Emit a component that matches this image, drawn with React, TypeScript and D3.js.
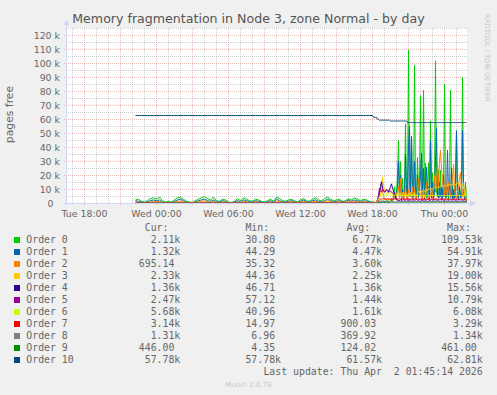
import * as d3 from "d3";

// free pages per order, in thousands
// first 80 points: every 15 min from Tue 22:15, then 94 points every 5 min from Wed 18:05
const order0 = [
  2.5, 3.0, 1.5, 1.0, 2.0, 3.5, 4.0, 3.0, 4.5, 2.0,
  1.0, 1.5, 1.0, 2.5, 4.0, 4.5, 3.0, 1.5, 1.0, 0.8,
  2.0, 3.0, 4.0, 5.0, 3.5, 2.5, 4.5, 2.0, 1.5, 3.0,
  2.5, 1.0, 0.8, 1.5, 3.5, 2.0, 4.0, 3.0, 2.0, 1.5,
  3.0, 2.5, 1.5, 1.0, 2.0, 3.0, 1.5, 4.5, 3.5, 2.0,
  1.5, 2.5, 3.0, 2.0, 1.0, 2.5, 3.5, 2.0, 1.5, 3.0,
  4.0, 2.5, 2.0, 3.5, 4.5, 3.0, 2.0, 2.5, 3.0, 1.5,
  2.0, 3.5, 2.5, 4.0, 3.0, 2.0, 3.0, 2.5, 1.5, 1.0,
  1.5, 0.8, 0.5, 1.0, 2.0, 1.5, 0.8,
  0.6, 0.9, 1.5, 2.0, 1.2, 0.8, 1.5, 2.5, 1.8, 1.0,
  2.0, 3.5, 2.0, 5.0, 12.0, 4.0, 8.0, 20.0, 45.0, 6.0,
  30.0, 5.0, 18.0, 4.0, 10.0, 57.0, 8.0, 4.0, 109.53, 12.0,
  5.0, 46.0, 8.0, 3.0, 98.6, 10.0, 4.0, 33.0, 6.0, 15.0,
  77.0, 6.0, 3.0, 81.0, 5.0, 29.0, 4.0, 10.0, 29.0, 5.0,
  59.0, 6.0, 22.0, 4.0, 12.0, 102.0, 8.0, 5.0, 24.0, 4.0,
  23.6, 3.0, 10.0, 5.0, 85.0, 6.0, 4.0, 12.0, 3.0, 8.0,
  81.0, 5.0, 15.0, 3.0, 10.0, 4.0, 52.0, 6.0, 3.0, 12.0,
  5.0, 4.0, 90.0, 8.0, 4.0, 15.0, 2.11,
];
const order1 = [
  2.0, 1.5, 1.0, 0.6, 1.2, 2.0, 2.5, 1.8, 2.5, 1.0,
  0.6, 0.8, 0.6, 1.5, 2.5, 3.0, 2.0, 0.8, 0.6, 0.5,
  1.2, 2.0, 2.5, 3.0, 2.0, 1.5, 2.5, 1.2, 1.0, 2.0,
  1.5, 0.6, 0.5, 1.0, 2.0, 1.2, 2.5, 2.0, 1.2, 1.0,
  2.0, 1.5, 1.0, 0.6, 1.2, 2.0, 1.0, 3.0, 2.0, 1.2,
  1.0, 1.5, 2.0, 1.2, 0.6, 1.5, 2.5, 1.2, 1.0, 2.0,
  2.5, 1.5, 1.2, 2.0, 3.0, 2.0, 1.2, 1.5, 2.0, 1.0,
  1.2, 2.5, 1.5, 2.5, 2.0, 1.2, 2.0, 1.5, 1.0, 0.6,
  0.8, 0.5, 0.6, 1.0, 1.5, 1.0, 0.8,
  1.2, 2.0, 1.5, 1.0, 0.8, 1.2, 1.5, 1.0, 0.8, 1.2,
  1.5, 2.5, 1.5, 4.0, 8.0, 3.0, 6.0, 12.0, 30.0, 4.0,
  20.0, 3.0, 10.0, 3.0, 6.0, 35.0, 5.0, 3.0, 40.0, 54.91,
  6.0, 48.0, 5.0, 3.0, 30.0, 6.0, 3.0, 20.0, 4.0, 10.0,
  20.0, 36.0, 4.0, 25.0, 3.0, 15.0, 26.0, 4.0, 12.0, 3.0,
  45.0, 4.0, 15.0, 3.0, 8.0, 30.0, 54.0, 5.0, 4.0, 15.0,
  5.0, 12.0, 3.0, 20.0, 8.0, 4.0, 6.0, 38.0, 5.0, 12.0,
  4.0, 25.0, 3.0, 10.0, 4.0, 20.0, 52.0, 6.0, 3.0, 12.0,
  4.0, 8.0, 52.0, 10.0, 3.0, 6.0, 1.32,
];
const order2 = [
  1.0, 0.8, 0.5, 0.4, 0.8, 1.0, 1.6, 1.2, 1.4, 0.6,
  0.4, 0.6, 0.5, 0.9, 1.3, 1.9, 1.1, 0.5, 0.4, 0.3,
  0.8, 1.1, 1.6, 1.8, 1.3, 0.9, 1.5, 0.8, 0.6, 1.1,
  1.0, 0.4, 0.3, 0.7, 1.1, 0.8, 1.4, 1.3, 0.7, 0.5,
  1.3, 0.9, 0.6, 0.5, 0.7, 1.1, 0.6, 1.7, 1.3, 0.8,
  0.6, 1.0, 1.4, 0.8, 0.4, 1.0, 1.6, 0.9, 0.7, 1.3,
  1.6, 1.0, 0.8, 1.3, 1.9, 1.4, 0.8, 1.0, 1.3, 0.6,
  0.8, 1.6, 1.0, 1.4, 1.3, 0.7, 1.3, 1.0, 0.6, 0.5,
  0.3, 0.4, 0.5, 0.8, 1.5, 3.0, 8.0,
  12.0, 15.0, 9.0, 5.0, 3.0, 2.5, 3.0, 2.0, 2.5, 3.0,
  2.5, 3.0, 2.0, 4.0, 6.0, 3.0, 5.0, 8.0, 12.0, 4.0,
  18.0, 4.0, 8.0, 3.0, 6.0, 12.0, 4.0, 3.0, 10.0, 5.0,
  8.0, 4.0, 12.0, 3.0, 10.0, 5.0, 3.0, 8.0, 18.0, 6.0,
  5.0, 8.0, 3.0, 10.0, 4.0, 6.0, 15.0, 4.0, 3.0, 6.0,
  5.0, 10.0, 4.0, 12.0, 20.0, 8.0, 15.0, 28.0, 12.0, 30.0,
  37.97, 25.0, 18.0, 10.0, 6.0, 20.0, 8.0, 5.0, 15.0, 6.0,
  5.0, 12.0, 18.0, 28.0, 10.0, 6.0, 4.0, 8.0, 12.0, 18.0,
  22.0, 10.0, 5.0, 15.0, 6.0, 4.0, 0.695,
];
const order3 = [
  0.5, 0.4, 0.3, 0.3, 0.4, 0.6, 0.8, 0.6, 0.9, 0.4,
  0.3, 0.3, 0.3, 0.5, 0.8, 1.0, 0.7, 0.4, 0.3, 0.3,
  0.4, 0.6, 0.8, 1.1, 0.7, 0.5, 0.9, 0.4, 0.4, 0.6,
  0.5, 0.3, 0.3, 0.4, 0.7, 0.4, 0.8, 0.6, 0.4, 0.4,
  0.6, 0.5, 0.4, 0.3, 0.4, 0.6, 0.4, 1.0, 0.7, 0.4,
  0.4, 0.5, 0.7, 0.4, 0.3, 0.5, 0.9, 0.5, 0.4, 0.7,
  0.9, 0.6, 0.5, 0.8, 1.2, 0.8, 0.5, 0.6, 0.8, 0.4,
  0.5, 0.9, 0.6, 0.9, 0.7, 0.5, 0.8, 0.6, 0.4, 0.6,
  0.2, 0.3, 0.4, 0.6, 1.0, 2.0, 4.0,
  6.0, 10.0, 19.0, 13.0, 9.0, 8.0, 7.0, 8.0, 7.5, 8.0,
  7.0, 8.0, 7.5, 6.0, 7.0, 8.0, 6.0, 7.0, 8.0, 6.0,
  7.0, 5.0, 6.0, 8.0, 5.0, 6.0, 7.0, 5.0, 6.0, 8.0,
  6.0, 5.0, 7.0, 6.0, 8.0, 5.0, 6.0, 7.0, 9.0, 8.0,
  7.0, 9.0, 8.0, 10.0, 9.0, 8.0, 10.0, 9.0, 11.0, 10.0,
  10.0, 11.0, 10.0, 11.0, 12.0, 11.0, 11.0, 12.0, 11.0, 12.0,
  12.0, 12.0, 13.0, 12.0, 13.0, 13.0, 12.0, 13.0, 14.0, 13.0,
  13.0, 14.0, 13.0, 14.0, 14.0, 13.0, 14.0, 15.0, 14.0, 14.0,
  13.0, 14.0, 13.0, 12.0, 8.0, 5.0, 2.33,
];
const order4 = [
  0.45, 0.42, 0.40, 0.38, 0.41, 0.45, 0.48, 0.44, 0.50, 0.42,
  0.38, 0.39, 0.38, 0.43, 0.48, 0.52, 0.46, 0.40, 0.38, 0.37,
  0.41, 0.45, 0.49, 0.55, 0.47, 0.43, 0.50, 0.41, 0.40, 0.44,
  0.43, 0.38, 0.37, 0.40, 0.46, 0.42, 0.48, 0.45, 0.41, 0.40,
  0.44, 0.43, 0.40, 0.38, 0.41, 0.45, 0.40, 0.52, 0.47, 0.42,
  0.40, 0.43, 0.46, 0.42, 0.38, 0.43, 0.48, 0.42, 0.40, 0.45,
  0.49, 0.44, 0.42, 0.47, 0.53, 0.46, 0.42, 0.44, 0.46, 0.40,
  0.42, 0.48, 0.44, 0.50, 0.46, 0.42, 0.46, 0.44, 0.40, 0.42,
  0.3, 0.4, 0.6, 1.0, 2.0, 4.0, 8.0,
  12.0, 15.56, 11.0, 9.0, 8.0, 9.0, 10.0, 9.0, 8.0, 10.0,
  12.0, 14.0, 11.0, 9.0, 7.0, 5.0, 3.0, 2.5, 2.0, 1.8,
  1.5, 2.0, 1.6, 1.4, 1.8, 2.2, 1.5, 1.3, 1.7, 2.0,
  1.6, 1.4, 1.8, 1.5, 2.0, 1.7, 1.4, 1.6, 1.9, 1.5,
  1.3, 1.7, 2.1, 1.6, 1.4, 1.8, 1.5, 1.3, 1.6, 2.0,
  1.7, 1.4, 1.5, 1.9, 1.6, 1.3, 1.8, 2.2, 1.6, 1.4,
  1.5, 1.8, 1.4, 1.6, 2.0, 1.7, 1.3, 1.5, 1.8, 1.6,
  1.4, 1.7, 1.5, 1.3, 1.6, 1.9, 1.5, 1.4, 1.7, 1.5,
  1.3, 1.6, 1.8, 1.5, 1.4, 1.4, 1.36,
];
const order5 = [
  0.32, 0.30, 0.29, 0.28, 0.29, 0.31, 0.33, 0.31, 0.34, 0.30,
  0.28, 0.28, 0.28, 0.30, 0.33, 0.35, 0.32, 0.29, 0.28, 0.27,
  0.29, 0.31, 0.33, 0.36, 0.32, 0.30, 0.34, 0.29, 0.29, 0.31,
  0.30, 0.28, 0.27, 0.29, 0.32, 0.30, 0.33, 0.31, 0.29, 0.29,
  0.31, 0.30, 0.29, 0.28, 0.29, 0.31, 0.29, 0.35, 0.32, 0.30,
  0.29, 0.30, 0.32, 0.30, 0.28, 0.30, 0.33, 0.30, 0.29, 0.31,
  0.33, 0.31, 0.30, 0.32, 0.35, 0.32, 0.30, 0.31, 0.32, 0.29,
  0.30, 0.33, 0.31, 0.34, 0.32, 0.30, 0.32, 0.31, 0.29, 0.30,
  0.3, 0.5, 0.8, 1.5, 3.0, 6.0, 10.79,
  9.0, 8.0, 10.0, 9.5, 8.5, 9.0, 10.0, 9.5, 9.0, 8.5,
  9.0, 8.0, 7.5, 7.0, 6.0, 4.0, 3.0, 2.5, 2.2, 2.0,
  2.6, 2.9, 2.4, 2.7, 3.1, 2.5, 2.8, 2.3, 2.6, 3.0,
  2.7, 2.4, 2.9, 2.6, 2.5, 3.2, 2.8, 2.4, 2.6, 2.9,
  2.5, 2.7, 3.0, 2.6, 2.4, 2.8, 2.5, 2.7, 3.1, 2.6,
  2.4, 2.9, 2.7, 2.5, 2.8, 2.6, 3.0, 2.4, 2.7, 2.5,
  2.9, 2.6, 2.8, 2.4, 2.7, 3.0, 2.5, 2.6, 2.8, 2.4,
  2.7, 2.9, 2.5, 2.6, 2.8, 2.5, 2.7, 2.4, 2.6, 2.9,
  2.5, 2.7, 2.6, 2.4, 2.6, 2.5, 2.47,
];
const order6 = [
  0.20, 0.19, 0.18, 0.18, 0.18, 0.19, 0.21, 0.20, 0.22, 0.19,
  0.18, 0.18, 0.17, 0.19, 0.21, 0.22, 0.20, 0.18, 0.18, 0.17,
  0.18, 0.20, 0.21, 0.23, 0.20, 0.19, 0.21, 0.18, 0.18, 0.20,
  0.19, 0.17, 0.17, 0.18, 0.20, 0.19, 0.21, 0.20, 0.18, 0.18,
  0.20, 0.19, 0.18, 0.17, 0.18, 0.20, 0.18, 0.22, 0.20, 0.19,
  0.18, 0.19, 0.20, 0.19, 0.17, 0.19, 0.21, 0.19, 0.18, 0.20,
  0.21, 0.20, 0.19, 0.20, 0.22, 0.20, 0.19, 0.19, 0.20, 0.18,
  0.19, 0.21, 0.20, 0.21, 0.20, 0.19, 0.20, 0.19, 0.18, 0.19,
  0.2, 0.3, 0.5, 1.0, 2.0, 3.5, 5.0,
  5.6, 5.8, 6.0, 6.08, 6.0, 5.9, 5.9, 5.8, 5.8, 5.8,
  5.8, 5.9, 5.8, 5.8, 5.9, 5.8, 5.8, 5.7, 5.8, 5.8,
  5.8, 5.8, 5.7, 5.8, 5.8, 5.8, 5.7, 5.8, 5.8, 5.7,
  5.8, 5.7, 5.7, 5.8, 5.7, 5.7, 5.8, 5.7, 5.7, 5.7,
  5.7, 5.7, 5.8, 5.7, 5.7, 5.7, 5.7, 5.7, 5.7, 5.7,
  5.7, 5.7, 5.7, 5.7, 5.7, 5.7, 5.7, 5.7, 5.7, 5.7,
  5.7, 5.7, 5.7, 5.7, 5.7, 5.7, 5.7, 5.7, 5.7, 5.7,
  5.7, 5.7, 5.7, 5.7, 5.7, 5.7, 5.7, 5.7, 5.7, 5.7,
  5.7, 5.7, 5.7, 5.7, 5.7, 5.7, 5.68,
];
const order7 = [
  0.09, 0.08, 0.08, 0.07, 0.08, 0.09, 0.10, 0.09, 0.10, 0.08,
  0.07, 0.07, 0.07, 0.08, 0.10, 0.11, 0.09, 0.08, 0.07, 0.07,
  0.08, 0.09, 0.10, 0.12, 0.09, 0.08, 0.10, 0.08, 0.08, 0.09,
  0.08, 0.07, 0.07, 0.08, 0.09, 0.08, 0.10, 0.09, 0.08, 0.08,
  0.09, 0.08, 0.08, 0.07, 0.08, 0.09, 0.08, 0.11, 0.09, 0.08,
  0.08, 0.08, 0.09, 0.08, 0.07, 0.08, 0.10, 0.08, 0.08, 0.09,
  0.10, 0.09, 0.08, 0.09, 0.11, 0.09, 0.08, 0.09, 0.09, 0.08,
  0.08, 0.10, 0.09, 0.10, 0.09, 0.08, 0.09, 0.08, 0.08, 0.08,
  0.1, 0.1, 0.2, 0.4, 0.8, 1.5, 2.5,
  3.0, 3.2, 3.29, 3.25, 3.2, 3.2, 3.18, 3.2, 3.15, 3.2,
  3.2, 3.18, 3.2, 3.2, 3.18, 3.2, 3.17, 3.2, 3.18, 3.2,
  3.18, 3.17, 3.18, 3.2, 3.17, 3.18, 3.17, 3.18, 3.17, 3.16,
  3.17, 3.16, 3.17, 3.16, 3.17, 3.16, 3.16, 3.17, 3.16, 3.16,
  3.16, 3.15, 3.16, 3.16, 3.15, 3.16, 3.15, 3.15, 3.16, 3.15,
  3.15, 3.15, 3.15, 3.15, 3.15, 3.15, 3.15, 3.15, 3.15, 3.15,
  3.15, 3.15, 3.15, 3.14, 3.15, 3.14, 3.15, 3.14, 3.14, 3.14,
  3.14, 3.14, 3.14, 3.14, 3.14, 3.14, 3.14, 3.14, 3.14, 3.14,
  3.14, 3.14, 3.14, 3.14, 3.14, 3.14, 3.14,
];
const order8 = [
  0.03, 0.03, 0.03, 0.02, 0.03, 0.03, 0.04, 0.03, 0.04, 0.03,
  0.02, 0.02, 0.02, 0.03, 0.04, 0.04, 0.03, 0.03, 0.02, 0.02,
  0.03, 0.03, 0.04, 0.04, 0.03, 0.03, 0.04, 0.03, 0.03, 0.03,
  0.03, 0.02, 0.02, 0.03, 0.03, 0.03, 0.04, 0.03, 0.03, 0.03,
  0.03, 0.03, 0.03, 0.02, 0.03, 0.03, 0.03, 0.04, 0.03, 0.03,
  0.03, 0.03, 0.03, 0.03, 0.02, 0.03, 0.04, 0.03, 0.03, 0.03,
  0.04, 0.03, 0.03, 0.03, 0.04, 0.03, 0.03, 0.03, 0.03, 0.03,
  0.03, 0.04, 0.03, 0.04, 0.03, 0.03, 0.03, 0.03, 0.03, 0.03,
  0.03, 0.04, 0.06, 0.1, 0.2, 0.5, 0.9,
  1.2, 1.3, 1.34, 1.33, 1.32, 1.32, 1.32, 1.31, 1.32, 1.31,
  1.32, 1.31, 1.32, 1.31, 1.31, 1.32, 1.31, 1.31, 1.32, 1.31,
  1.31, 1.31, 1.32, 1.31, 1.31, 1.31, 1.31, 1.32, 1.31, 1.31,
  1.31, 1.31, 1.31, 1.31, 1.32, 1.31, 1.31, 1.31, 1.31, 1.31,
  1.31, 1.31, 1.31, 1.31, 1.31, 1.31, 1.31, 1.31, 1.31, 1.31,
  1.31, 1.31, 1.31, 1.31, 1.31, 1.31, 1.31, 1.31, 1.31, 1.31,
  1.31, 1.31, 1.31, 1.31, 1.31, 1.31, 1.31, 1.31, 1.31, 1.31,
  1.31, 1.31, 1.31, 1.31, 1.31, 1.31, 1.31, 1.31, 1.31, 1.31,
  1.31, 1.31, 1.31, 1.31, 1.31, 1.31, 1.31,
];
const order9 = [
  0.008, 0.007, 0.007, 0.006, 0.007, 0.008, 0.009, 0.008, 0.009, 0.007,
  0.006, 0.006, 0.006, 0.007, 0.009, 0.010, 0.008, 0.007, 0.006, 0.006,
  0.007, 0.008, 0.009, 0.011, 0.008, 0.007, 0.009, 0.007, 0.007, 0.008,
  0.007, 0.006, 0.006, 0.007, 0.008, 0.007, 0.009, 0.008, 0.007, 0.007,
  0.008, 0.007, 0.007, 0.006, 0.007, 0.008, 0.007, 0.010, 0.008, 0.007,
  0.007, 0.007, 0.008, 0.007, 0.006, 0.007, 0.009, 0.007, 0.007, 0.008,
  0.009, 0.008, 0.007, 0.008, 0.010, 0.008, 0.007, 0.008, 0.008, 0.007,
  0.007, 0.009, 0.008, 0.009, 0.008, 0.007, 0.008, 0.007, 0.007, 0.007,
  0.01, 0.01, 0.02, 0.05, 0.1, 0.2, 0.35,
  0.43, 0.46, 0.461, 0.46, 0.46, 0.455, 0.455, 0.45, 0.45, 0.45,
  0.45, 0.45, 0.45, 0.45, 0.45, 0.45, 0.45, 0.45, 0.45, 0.45,
  0.45, 0.45, 0.45, 0.45, 0.45, 0.45, 0.45, 0.45, 0.45, 0.45,
  0.45, 0.45, 0.45, 0.45, 0.45, 0.45, 0.45, 0.45, 0.45, 0.45,
  0.45, 0.45, 0.45, 0.45, 0.45, 0.45, 0.45, 0.45, 0.45, 0.45,
  0.45, 0.45, 0.45, 0.45, 0.45, 0.45, 0.45, 0.45, 0.45, 0.45,
  0.45, 0.45, 0.45, 0.45, 0.45, 0.45, 0.45, 0.45, 0.45, 0.45,
  0.45, 0.45, 0.45, 0.45, 0.45, 0.45, 0.45, 0.45, 0.45, 0.45,
  0.45, 0.45, 0.45, 0.45, 0.45, 0.45, 0.446,
];
const order10 = [
  62.81, 62.81, 62.81, 62.81, 62.81, 62.81, 62.81, 62.81, 62.81, 62.81,
  62.81, 62.81, 62.81, 62.81, 62.81, 62.81, 62.81, 62.81, 62.81, 62.81,
  62.81, 62.81, 62.81, 62.81, 62.81, 62.81, 62.81, 62.81, 62.81, 62.81,
  62.81, 62.81, 62.81, 62.81, 62.81, 62.81, 62.81, 62.81, 62.81, 62.81,
  62.81, 62.81, 62.81, 62.81, 62.81, 62.81, 62.81, 62.81, 62.81, 62.81,
  62.81, 62.81, 62.81, 62.81, 62.81, 62.81, 62.81, 62.81, 62.81, 62.81,
  62.81, 62.81, 62.81, 62.81, 62.81, 62.81, 62.81, 62.81, 62.81, 62.81,
  62.81, 62.81, 62.81, 62.81, 62.81, 62.81, 62.81, 62.81, 62.81, 62.81,
  61.5, 61.5, 61.5, 61.5, 60.2, 60.2, 59.5,
  59.5, 59.5, 59.5, 59.5, 59.5, 59.5, 59.5, 59.5, 59.5, 59.5,
  58.9, 58.9, 58.9, 58.9, 58.9, 58.9, 58.9, 58.9, 58.9, 58.9,
  58.9, 58.9, 58.9, 58.9, 58.9, 58.9, 58.9, 57.78, 57.78, 57.78,
  57.78, 57.78, 57.78, 57.78, 57.78, 57.78, 57.78, 57.78, 57.78, 57.78,
  57.78, 57.78, 57.78, 57.78, 57.78, 57.78, 57.78, 57.78, 57.78, 57.78,
  57.78, 57.78, 57.78, 57.78, 57.78, 57.78, 57.78, 57.78, 57.78, 57.78,
  57.78, 57.78, 57.78, 57.78, 57.78, 57.78, 57.78, 57.78, 57.78, 57.78,
  57.78, 57.78, 57.78, 57.78, 57.78, 57.78, 57.78, 57.78, 57.78, 57.78,
  57.78, 57.78, 57.78, 57.78, 57.78, 57.78, 57.78,
];

const seriesNames = ["Order 0", "Order 1", "Order 2", "Order 3", "Order 4", "Order 5",
  "Order 6", "Order 7", "Order 8", "Order 9", "Order 10"];
const seriesColors = ["#00cc00", "#0066b3", "#ff8000", "#ffcc00", "#330099", "#990099",
  "#ccff00", "#ff0000", "#808080", "#008f00", "#00487d"];
const seriesValues = [order0, order1, order2, order3, order4, order5, order6, order7, order8, order9, order10];

const curValues = ["2.11k", "1.32k", "695.14 ", "2.33k", "1.36k", "2.47k", "5.68k", "3.14k", "1.31k", "446.00 ", "57.78k"];
const minValues = ["30.80 ", "44.29 ", "35.32 ", "44.36 ", "46.71 ", "57.12 ", "40.96 ", "14.97 ", "6.96 ", "4.35 ", "57.78k"];
const avgValues = ["6.77k", "4.47k", "3.60k", "2.25k", "1.36k", "1.44k", "1.61k", "900.03 ", "369.92 ", "124.02 ", "61.57k"];
const maxValues = ["109.53k", "54.91k", "37.97k", "19.00k", "15.56k", "10.79k", "6.08k", "3.29k", "1.34k", "461.00 ", "62.81k"];

const yTicks = [0, 10, 20, 30, 40, 50, 60, 70, 80, 90, 100, 110, 120];
const xTickLabels = [
  new Date(2026, 2, 31, 18, 0),
  new Date(2026, 3, 1, 0, 0),
  new Date(2026, 3, 1, 6, 0),
  new Date(2026, 3, 1, 12, 0),
  new Date(2026, 3, 1, 18, 0),
  new Date(2026, 3, 2, 0, 0),
];

const leftStart = new Date(2026, 2, 31, 22, 15);
const rightStart = new Date(2026, 3, 1, 18, 5);
const times = [
  ...d3.range(80).map((i) => d3.timeMinute.offset(leftStart, i * 15)),
  ...d3.range(94).map((i) => d3.timeMinute.offset(rightStart, i * 5)),
];

const W = 497;
const H = 395;
const left = 67;
const right = 467;
const top = 28;
const bottom = 203;

const sans = "'DejaVu Sans', sans-serif";
const mono = "'DejaVu Sans Mono', monospace";
const fontColor = "#666666";
const axisColor = "#cfd6f8";
const gridColor = "rgba(143,143,143,0.42)";
const mgridColor = "rgba(222,79,79,0.4)";

export default function App() {
  const x = d3
    .scaleTime()
    .domain([new Date(2026, 2, 31, 16, 35), new Date(2026, 3, 2, 1, 55)])
    .range([left, right]);
  const y = d3.scaleLinear().domain([0, 125]).range([bottom, top]);

  const line = d3
    .line<number>()
    .x((_, i) => x(times[i]))
    .y((d) => y(d));

  const hours = d3.timeHour.range(x.domain()[0], x.domain()[1]);
  const minorV = hours.filter((h) => h.getHours() % 3 !== 0);
  const majorV = hours.filter((h) => h.getHours() % 3 === 0);
  const minorH = d3.range(5, 130, 10);

  const cw = 5.93;
  const colEnds = [180.3, 281, 382, 482.7];
  const cols = [curValues, minValues, avgValues, maxValues];
  const headers = ["Cur:", "Min:", "Avg:", "Max:"];

  return (
    <svg width={W} height={H} style={{ position: "absolute", left: 0, top: 0 }}>
      <rect width={W} height={H} fill="#f0f0f0" />
      <rect x={left} y={top} width={right - left} height={bottom - top} fill="#ffffff" />

      {/* grid */}
      <g strokeWidth={1} strokeDasharray="1,1" fill="none">
        {minorH.map((v) => (
          <line key={"mh" + v} x1={left - 1} x2={right} y1={Math.round(y(v)) + 0.5} y2={Math.round(y(v)) + 0.5} stroke={gridColor} />
        ))}
        {minorV.map((t) => (
          <line key={"mv" + t.getTime()} x1={Math.round(x(t)) + 0.5} x2={Math.round(x(t)) + 0.5} y1={top} y2={bottom + 1} stroke={gridColor} />
        ))}
        {yTicks.map((v) => (
          <line key={"Mh" + v} x1={left - 3} x2={right} y1={Math.round(y(v)) + 0.5} y2={Math.round(y(v)) + 0.5} stroke={mgridColor} />
        ))}
        {majorV.map((t) => (
          <line key={"Mv" + t.getTime()} x1={Math.round(x(t)) + 0.5} x2={Math.round(x(t)) + 0.5} y1={top} y2={bottom + 3} stroke={mgridColor} />
        ))}
      </g>

      {/* series */}
      <g transform="translate(0.5,0.45)">
        {seriesValues.map((vals, i) => (
          <path key={seriesNames[i]} d={line(vals) ?? ""} fill="none" stroke={seriesColors[i]} strokeWidth={1} />
        ))}
      </g>

      {/* axes */}
      <line x1={left - 0.5} x2={left - 0.5} y1={bottom + 2} y2={top - 4} stroke={axisColor} />
      <line x1={left - 3} x2={right + 3} y1={bottom + 0.5} y2={bottom + 0.5} stroke={axisColor} />
      <path d={`M${left - 3.5},${top - 3} L${left + 2.5},${top - 3} L${left - 0.5},${top - 9} Z`} fill={axisColor} />
      <path d={`M${right + 3},${bottom - 2.5} L${right + 3},${bottom + 3.5} L${right + 9},${bottom + 0.5} Z`} fill={axisColor} />

      {/* tick labels */}
      <g fontFamily={sans} fontSize={9.4} fill={fontColor}>
        {yTicks.map((v) => (
          <text key={"yl" + v} x={v === 0 ? 53.5 : 60} y={y(v) + 3.8} textAnchor="end">
            {v === 0 ? "0" : `${v} k`}
          </text>
        ))}
        {xTickLabels.map((t) => (
          <text key={"xl" + t.getTime()} x={x(t) + 0.5} y={217} textAnchor="middle">
            {d3.timeFormat("%a %H:%M")(t)}
          </text>
        ))}
      </g>

      <text x={W / 2} y={23} textAnchor="middle" fontFamily={sans} fontSize={12.6} fill="#555">
        Memory fragmentation in Node 3, zone Normal - by day
      </text>
      <text transform="translate(12.5,114.5) rotate(-90)" textAnchor="middle" fontFamily={sans} fontSize={10.8} fill={fontColor}>
        pages free
      </text>
      <text transform="translate(485,14) rotate(90)" fontFamily={sans} fontSize={6.8} fill="#c4c4c4">
        RRDTOOL / TOBI OETIKER
      </text>

      {/* legend */}
      <g fontFamily={mono} fontSize={9.85} fill={fontColor} style={{ whiteSpace: "pre" }}>
        {headers.map((h, j) => (
          <text key={h} x={colEnds[j] - 2 * cw} y={231} textAnchor="end">{h}</text>
        ))}
        {seriesNames.map((name, i) => {
          const cy = 240 + i * 12;
          return (
            <g key={"lg" + name}>
              <rect x={14} y={cy - 3} width={6} height={6} fill={seriesColors[i]} />
              <text x={26.3} y={cy + 3.3}>{name}</text>
              {cols.map((c, j) => (
                <text key={j} x={colEnds[j]} y={cy + 3.3} textAnchor="end">
                  {c[i].replace(" ", "\u00a0")}
                </text>
              ))}
            </g>
          );
        })}
        <text x={colEnds[3]} y={375} textAnchor="end">
          {"Last update: Thu Apr\u00a0\u00a02 01:45:14 2026"}
        </text>
      </g>
      <text x={W / 2} y={387} textAnchor="middle" fontFamily={sans} fontSize={7.1} fill="#c8c8c8">
        Munin 2.0.76
      </text>
    </svg>
  );
}
